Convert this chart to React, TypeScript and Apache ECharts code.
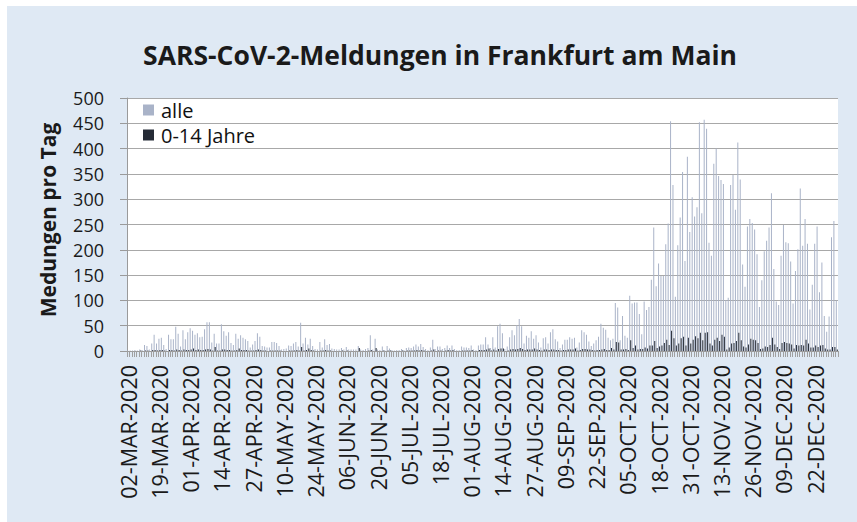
import React, { useEffect, useRef } from "react";
import * as echarts from "echarts";

// ---- data ----
const MONTHS = ["JAN", "FEB", "MAR", "APR", "MAY", "JUN", "JUL", "AUG", "SEP", "OCT", "NOV", "DEC"];
const FIRST_DAY = "02-MAR-2020";
const LAST_DAY = "31-DEC-2020";
// days that have no entry in the reporting table
const MISSING_DAYS = [
  "07-MAR-2020", "08-MAR-2020", "14-MAR-2020", "15-MAR-2020",
  "17-MAY-2020", "14-JUN-2020", "27-JUN-2020", "28-JUN-2020", "26-JUL-2020",
];

const Y_TICKS = [0, 50, 100, 150, 200, 250, 300, 350, 400, 450, 500];

// Meldungen pro Tag, alle
const ALLE = [
  1, 1, 1, 2, 1, 3, 2, 12, 10, 3,
  15, 32, 15, 24, 26, 12, 4, 32, 23, 23,
  48, 34, 9, 41, 23, 37, 45, 40, 32, 35,
  27, 28, 43, 57, 57, 17, 34, 15, 15, 53,
  39, 30, 37, 16, 12, 34, 24, 31, 26, 23,
  20, 7, 13, 20, 35, 28, 10, 9, 7, 7,
  18, 18, 16, 10, 3, 4, 5, 11, 10, 15,
  18, 9, 56, 15, 26, 13, 24, 10, 4, 3,
  18, 7, 23, 12, 14, 5, 4, 3, 3, 6,
  3, 8, 3, 3, 3, 3, 10, 3, 2, 4,
  6, 31, 3, 24, 3, 2, 9, 2, 10, 5,
  2, 1, 2, 2, 4, 2, 6, 7, 6, 9,
  13, 9, 14, 8, 4, 2, 7, 22, 4, 9,
  9, 4, 6, 11, 6, 11, 4, 2, 2, 9,
  7, 7, 6, 11, 3, 2, 11, 13, 13, 27,
  13, 6, 27, 7, 49, 54, 35, 4, 9, 27,
  41, 31, 51, 63, 49, 15, 30, 26, 39, 24,
  31, 17, 7, 25, 27, 15, 37, 43, 23, 19,
  6, 13, 22, 22, 27, 24, 26, 7, 17, 41,
  37, 32, 19, 10, 15, 21, 28, 54, 46, 42,
  26, 21, 24, 95, 86, 21, 69, 30, 26, 109,
  94, 96, 96, 73, 33, 98, 81, 87, 141, 244,
  128, 173, 148, 148, 211, 252, 454, 328, 107, 209,
  264, 354, 178, 384, 235, 304, 266, 284, 452, 272,
  457, 439, 214, 188, 370, 400, 346, 338, 330, 101,
  105, 328, 348, 279, 412, 339, 171, 127, 246, 261,
  253, 240, 191, 87, 140, 197, 218, 244, 312, 162,
  98, 91, 188, 249, 215, 213, 177, 94, 158, 201,
  321, 208, 261, 212, 82, 131, 212, 246, 116, 175,
  69, 38, 68, 225, 257, 100,
];

// Meldungen pro Tag, 0-14 Jahre
const KINDER = [
  0, 0, 0, 0, 0, 1, 0, 1, 1, 0,
  2, 2, 1, 2, 2, 1, 0, 2, 2, 1,
  3, 2, 1, 3, 2, 2, 3, 5, 2, 3,
  2, 2, 3, 4, 3, 1, 8, 1, 1, 3,
  3, 2, 2, 1, 1, 2, 5, 2, 2, 2,
  1, 1, 1, 2, 3, 2, 1, 1, 0, 1,
  1, 1, 1, 1, 0, 0, 0, 1, 1, 1,
  2, 1, 8, 1, 2, 5, 2, 1, 0, 0,
  1, 1, 2, 1, 1, 0, 0, 0, 0, 1,
  0, 1, 0, 0, 0, 0, 6, 0, 0, 0,
  1, 2, 0, 6, 0, 0, 1, 0, 1, 1,
  0, 0, 0, 0, 1, 0, 1, 1, 1, 1,
  2, 1, 2, 1, 0, 0, 1, 3, 0, 1,
  1, 0, 1, 2, 1, 2, 0, 0, 0, 1,
  1, 1, 1, 2, 0, 0, 2, 2, 2, 3,
  5, 1, 3, 1, 4, 5, 5, 0, 1, 3,
  4, 3, 4, 6, 4, 2, 3, 3, 3, 5,
  3, 2, 1, 3, 3, 2, 3, 3, 2, 2,
  1, 2, 2, 3, 3, 3, 5, 1, 2, 4,
  4, 3, 3, 2, 1, 2, 2, 3, 4, 2,
  2, 6, 3, 18, 17, 3, 3, 4, 2, 21,
  6, 11, 3, 4, 4, 7, 5, 11, 11, 20,
  6, 9, 11, 16, 22, 12, 40, 25, 11, 15,
  25, 28, 11, 26, 15, 22, 29, 25, 36, 21,
  36, 37, 15, 11, 22, 26, 20, 32, 28, 3,
  7, 15, 16, 20, 36, 21, 9, 7, 13, 24,
  22, 21, 16, 4, 5, 9, 8, 12, 26, 13,
  8, 4, 16, 18, 16, 15, 13, 5, 12, 11,
  12, 11, 22, 15, 7, 7, 11, 8, 11, 12,
  5, 3, 3, 8, 8, 3,
];

function parseDay(s: string): number {
  const [d, m, y] = s.split("-");
  return Date.UTC(Number(y), MONTHS.indexOf(m), Number(d));
}
function formatDay(t: number): string {
  const dt = new Date(t);
  const d = String(dt.getUTCDate()).padStart(2, "0");
  return `${d}-${MONTHS[dt.getUTCMonth()]}-${dt.getUTCFullYear()}`;
}
function buildCategories(): string[] {
  const out: string[] = [];
  const end = parseDay(LAST_DAY);
  for (let t = parseDay(FIRST_DAY); t <= end; t += 86400000) {
    const s = formatDay(t);
    if (!MISSING_DAYS.includes(s)) out.push(s);
  }
  return out;
}
const CATEGORIES = buildCategories();

const FONT = "'Open Sans', 'Noto Sans', sans-serif";

export default function App() {
  const ref = useRef<HTMLDivElement>(null);
  useEffect(() => {
    if (!ref.current) return;
    const chart = echarts.init(ref.current, undefined, { renderer: "svg" });
    chart.setOption({
      animation: false,
      textStyle: { fontFamily: FONT },
      graphic: [
        {
          type: "text",
          x: 440,
          y: 55,
          style: {
            text: "SARS-CoV-2-Meldungen in Frankfurt am Main",
            fontSize: 26.5,
            fontWeight: "bold",
            fontFamily: FONT,
            fill: "#1a1a1a",
            align: "center",
            verticalAlign: "middle",
          },
        },
        {
          type: "text",
          x: 48,
          y: 220,
          rotation: Math.PI / 2,
          style: {
            text: "Medungen pro Tag",
            fontSize: 21,
            fontWeight: "bold",
            fontFamily: FONT,
            fill: "#1a1a1a",
            align: "center",
            verticalAlign: "middle",
          },
        },
      ],
      legend: {
        data: ["alle", "0-14 Jahre"],
        orient: "vertical",
        left: 143,
        top: 100,
        padding: 0,
        itemWidth: 11,
        itemHeight: 11,
        itemGap: 5,
        icon: "rect",
        textStyle: { fontSize: 20, color: "#111", fontFamily: FONT, padding: [0, 0, 0, 2] },
      },
      grid: {
        left: 127,
        right: 19,
        top: 98,
        bottom: 171,
        show: true,
        backgroundColor: "#ffffff",
        borderWidth: 0,
      },
      xAxis: {
        type: "category",
        data: CATEGORIES,
        boundaryGap: true,
        axisLine: { show: true, lineStyle: { color: "#9a9a9a", width: 1 } },
        axisTick: { show: true, interval: 0, length: 6, lineStyle: { color: "#a0a0a0" } },
        axisLabel: {
          interval: 12,
          rotate: 90,
          margin: 14,
          fontSize: 21.5,
          color: "#1a1a1a",
          fontFamily: FONT,
        },
        splitLine: { show: false },
      },
      yAxis: {
        type: "value",
        min: Y_TICKS[0],
        max: Y_TICKS[Y_TICKS.length - 1],
        interval: 50,
        axisLine: { show: true, lineStyle: { color: "#9a9a9a", width: 1 } },
        axisTick: { show: true, length: 7, lineStyle: { color: "#9a9a9a" } },
        axisLabel: { fontSize: 18, color: "#1a1a1a", margin: 23, fontFamily: FONT },
        splitLine: { show: true, lineStyle: { color: "#a8a8a8", width: 1 } },
      },
      series: [
        {
          name: "alle",
          type: "bar",
          data: ALLE,
          barWidth: 1,
          barGap: "0%",
          itemStyle: { color: "#a9b3c8" },
        },
        {
          name: "0-14 Jahre",
          type: "bar",
          data: KINDER,
          barWidth: 1,
          itemStyle: { color: "#252b36" },
        },
      ],
    });
    return () => chart.dispose();
  }, []);
  return (
    <div style={{ position: "absolute", left: 0, top: 0, width: 857, height: 522, background: "#ffffff" }}>
      <div style={{ position: "absolute", left: 7, top: 6, right: 0, bottom: 0, background: "#dfe9f4" }} />
      <div ref={ref} style={{ position: "absolute", left: 0, top: 0, width: 857, height: 522 }} />
    </div>
  );
}
